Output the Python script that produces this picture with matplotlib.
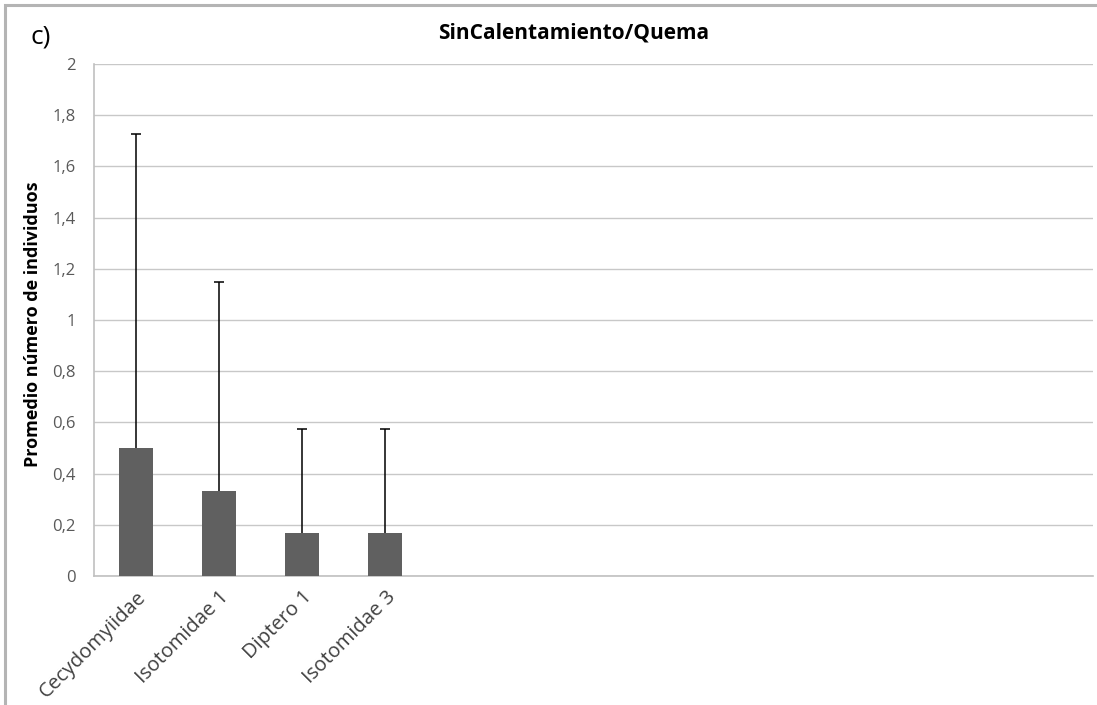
import matplotlib
matplotlib.use("Agg")
import matplotlib.pyplot as plt
from matplotlib.patches import Rectangle

plt.rcParams['font.family'] = ['Open Sans', 'DejaVu Sans']

# Mean abundance per taxon and its standard deviation (upper error bar)
categories = ["Cecydomyiidae", "Isotomidae 1", "Diptero 1", "Isotomidae 3",
              "", "", "", "", "", "", "", ""]
means = [0.5, 0.3333, 0.1667, 0.1667]
std_dev = [1.2247, 0.8165, 0.4082, 0.4082]
y_ticks = [0, 0.2, 0.4, 0.6, 0.8, 1, 1.2, 1.4, 1.6, 1.8, 2]
y_tick_labels = ["0", "0,2", "0,4", "0,6", "0,8", "1", "1,2", "1,4", "1,6", "1,8", "2"]

W, H = 1097, 705
fig = plt.figure(figsize=(W / 100, H / 100), dpi=100)
fig.patch.set_facecolor("white")

# chart-area frame
fig.patches.append(Rectangle((5 / W, -0.1), 1.2, 1 - 5 / H + 0.1,
                             transform=fig.transFigure, fill=False,
                             edgecolor="#b4b4b4", linewidth=2.2))

left, right, top, bottom = 94, 1093, 64, 576
ax = fig.add_axes([left / W, 1 - bottom / H, (right - left) / W, (bottom - top) / H])

x = list(range(len(categories)))
ax.bar(x[:len(means)], means, width=0.41, color="#606060", zorder=3)
_, caps, _ = ax.errorbar(x[:len(means)], means, yerr=[[0] * len(means), std_dev],
                         fmt="none", ecolor="#000000", elinewidth=1.1, capsize=3.5,
                         capthick=1.1, zorder=4)
# only the upper whisker carries a cap
caps[0].set_visible(False)

ax.set_xlim(-0.5, len(categories) - 0.5)
ax.set_ylim(0, 2)
ax.set_yticks(y_ticks)
ax.set_yticklabels(y_tick_labels, fontsize=12, color="#595959")
ax.set_xticks(x)
ax.set_xticklabels(categories, fontsize=14.5, color="#404040",
                   rotation=45, ha="right", rotation_mode="anchor")
ax.tick_params(axis="y", length=0, pad=13)
ax.tick_params(axis="x", length=0, pad=8)
ax.grid(axis="y", color="#c8c8c8", linewidth=1.0, zorder=0)

for side in ("top", "right"):
    ax.spines[side].set_visible(False)
for side in ("left", "bottom"):
    ax.spines[side].set_color("#c0c0c0")
    ax.spines[side].set_linewidth(1.2)

fig.text(574 / W, 1 - 33 / H, "SinCalentamiento/Quema", ha="center", va="center",
         fontsize=15, fontweight="bold", color="#000000")
fig.text(41 / W, 1 - 37 / H, "c)", ha="center", va="center", fontsize=19, color="#000000")
fig.text(33 / W, 1 - 324 / H, "Promedio número de individuos", ha="center", va="center",
         rotation=90, fontsize=13, fontweight="bold", color="#000000")

fig.savefig("out.png", dpi=100)
